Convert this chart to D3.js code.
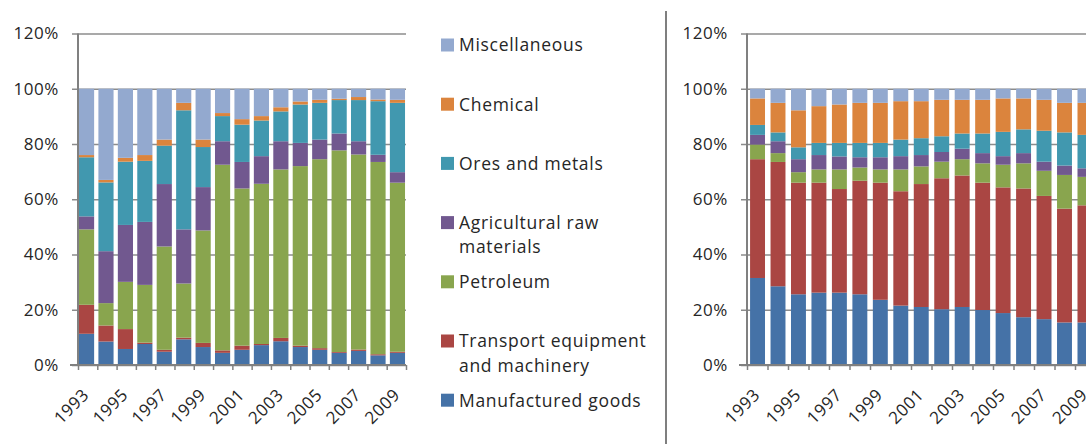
<!DOCTYPE html>
<html>
<head>
<meta charset="utf-8">
<script src="https://cdn.jsdelivr.net/npm/d3@7/dist/d3.min.js"></script>
<style>
  body { margin: 0; background: #fff; }
  text { font-family: "Open Sans", sans-serif; fill: #262626; }
</style>
</head>
<body>
<script>
var years = [1993, 1994, 1995, 1996, 1997, 1998, 1999, 2000, 2001, 2002, 2003, 2004, 2005, 2006, 2007, 2008, 2009];
var yTicks = [0, 0.2, 0.4, 0.6, 0.8, 1.0, 1.2];

// series order: bottom of the stack first
var seriesNames = ["Manufactured goods", "Transport equipment and machinery", "Petroleum",
                   "Agricultural raw materials", "Ores and metals", "Chemical", "Miscellaneous"];
var legendLines = [["Manufactured goods"], ["Transport equipment", "and machinery"], ["Petroleum"],
                   ["Agricultural raw", "materials"], ["Ores and metals"], ["Chemical"], ["Miscellaneous"]];
var seriesColors = ["#4572A7", "#AA4643", "#89A54E", "#71588F", "#4198AF", "#DB843D", "#93A9CF"];

// left panel, shares in %
var leftManufactured = [11.3, 8.5, 5.8, 7.6, 4.8, 9.3, 6.5, 4.4, 5.5, 7.2, 8.6, 6.5, 5.5, 4.4, 5.1, 3.5, 4.4];
var leftTransport    = [10.5, 5.8, 7.2, 0.5, 0.7, 0.6, 1.5, 0.9, 1.5, 0.4, 1.2, 0.5, 0.6, 0.3, 0.5, 0.4, 0.4];
var leftPetroleum    = [27.3, 8.1, 17.1, 20.9, 37.4, 19.6, 40.7, 67.2, 56.9, 58.0, 61.0, 65.0, 68.4, 73.0, 70.6, 69.6, 61.2];
var leftAgricultural = [4.7, 18.8, 20.6, 22.8, 22.6, 19.6, 15.7, 8.5, 9.6, 10.0, 10.2, 8.4, 7.1, 6.1, 4.8, 2.6, 3.8];
var leftOres         = [21.4, 24.9, 22.9, 22.1, 13.9, 43.1, 14.5, 9.1, 13.5, 12.9, 10.8, 13.9, 13.3, 12.1, 14.9, 19.4, 25.1];
var leftChemical     = [0.8, 0.9, 1.4, 2.1, 2.2, 2.7, 2.7, 1.1, 2.0, 1.6, 1.5, 1.1, 1.1, 0.5, 1.1, 0.6, 1.1];
var leftMisc         = [24.0, 33.0, 25.0, 24.0, 18.4, 5.1, 18.4, 8.8, 11.0, 9.9, 6.7, 4.6, 4.0, 3.6, 3.0, 3.9, 4.0];

// right panel, shares in %
var rightManufactured = [31.5, 28.5, 25.6, 26.2, 26.2, 25.6, 23.6, 21.5, 21.0, 20.2, 21.0, 19.9, 18.8, 17.3, 16.6, 15.4, 15.4];
var rightTransport    = [43.0, 45.0, 40.4, 39.8, 37.5, 41.1, 42.4, 41.4, 44.5, 47.4, 47.6, 46.1, 45.5, 46.6, 44.6, 41.2, 42.4];
var rightPetroleum    = [5.3, 3.2, 3.8, 4.8, 7.1, 4.8, 4.8, 7.9, 6.4, 6.0, 5.9, 7.0, 8.2, 9.1, 9.1, 12.2, 10.3];
var rightAgricultural = [3.5, 4.3, 4.7, 5.2, 4.7, 3.7, 4.4, 4.8, 4.1, 3.5, 3.8, 3.7, 3.1, 3.7, 3.3, 3.4, 3.1];
var rightOres         = [3.6, 3.2, 4.3, 4.4, 4.9, 5.2, 5.2, 6.0, 6.1, 5.7, 5.5, 7.1, 8.8, 8.6, 11.2, 12.0, 12.1];
var rightChemical     = [9.6, 10.7, 13.4, 13.3, 13.9, 14.5, 14.5, 13.9, 13.4, 13.2, 12.2, 12.2, 12.1, 11.2, 11.2, 10.7, 11.6];
var rightMisc         = [3.5, 5.1, 7.8, 6.3, 5.7, 5.1, 5.1, 4.5, 4.5, 4.0, 4.0, 4.0, 3.5, 3.5, 4.0, 5.1, 5.1];

var leftSeries = [leftManufactured, leftTransport, leftPetroleum, leftAgricultural, leftOres, leftChemical, leftMisc];
var rightSeries = [rightManufactured, rightTransport, rightPetroleum, rightAgricultural, rightOres, rightChemical, rightMisc];

var svg = d3.select("body").append("svg")
  .attr("width", 1086)
  .attr("height", 444);

var y = d3.scaleLinear().domain([0, 1.2]).range([365, 33.5]);

function table(series) {
  return years.map(function (yr, i) {
    var row = { year: yr };
    seriesNames.forEach(function (n, k) { row[n] = series[k][i]; });
    return row;
  });
}

function drawPanel(series, x0, x1, padInner, padOuter) {
  var g = svg.append("g");
  var w = x1 - x0;

  var x = d3.scaleBand().domain(years).range([x0, x1])
    .paddingInner(padInner).paddingOuter(padOuter);

  // gridlines + y labels
  var yAxis = g.append("g")
    .attr("transform", "translate(" + x0 + ",0)")
    .call(d3.axisLeft(y).tickValues(yTicks).tickFormat(d3.format(".0%"))
      .tickSizeInner(-w).tickSizeOuter(0).tickPadding(19));
  yAxis.select(".domain").remove();
  yAxis.selectAll(".tick line").attr("x1", -6).attr("stroke", "#8c8c8c").attr("stroke-width", 1.3);
  yAxis.selectAll(".tick text").style("font-size", "17px").attr("fill", "#262626")
    .style("letter-spacing", "0.6px")
    .style("font-family", "'Open Sans', sans-serif");

  var stack = d3.stack().keys(seriesNames).offset(d3.stackOffsetExpand);
  var layers = stack(table(series));

  g.selectAll("g.layer")
    .data(layers)
    .enter().append("g")
    .attr("class", "layer")
    .attr("fill", function (d, i) { return seriesColors[i]; })
    .selectAll("rect")
    .data(function (d) { return d; })
    .enter().append("rect")
    .attr("x", function (d) { return x(d.data.year); })
    .attr("width", x.bandwidth())
    .attr("y", function (d) { return y(d[1]); })
    .attr("height", function (d) { return y(d[0]) - y(d[1]); });

  // y axis line
  g.append("line")
    .attr("x1", x0).attr("x2", x0)
    .attr("y1", y(1.2)).attr("y2", y(0))
    .attr("stroke", "#808080").attr("stroke-width", 2);

  // x axis with tick marks between categories
  var xEdges = d3.scaleLinear().domain([0, years.length]).range([x0, x1]);
  var xAxis = g.append("g")
    .attr("transform", "translate(0," + y(0) + ")")
    .call(d3.axisBottom(xEdges).tickValues(d3.range(years.length + 1))
      .tickFormat("").tickSizeInner(5).tickSizeOuter(0));
  xAxis.select(".domain").attr("stroke", "#808080").attr("stroke-width", 2)
    .attr("d", "M" + (x0 - 8) + ",0H" + x1);
  xAxis.selectAll(".tick line").attr("stroke", "#808080").attr("stroke-width", 1.5);

  g.selectAll("text.year")
    .data(years.filter(function (d, i) { return i % 2 === 0; }))
    .enter().append("text")
    .attr("class", "year")
    .attr("text-anchor", "end")
    .attr("transform", function (d) {
      return "translate(" + (x(d) + x.bandwidth() / 2 + 3.5) + ",396) rotate(-45)";
    })
    .style("font-size", "17px")
    .style("letter-spacing", "0.5px")
    .text(function (d) { return d; });
}

drawPanel(leftSeries, 78, 406, 0.22, 0.05);
drawPanel(rightSeries, 747, 1095.5, 0.27, 0.15);

// legend, top entry is the last series
var legend = svg.append("g").attr("transform", "translate(441,0)");
var order = d3.range(seriesNames.length).reverse();
var item = legend.selectAll("g.item")
  .data(order)
  .enter().append("g")
  .attr("class", "item")
  .attr("transform", function (k, i) { return "translate(0," + (45 + i * 59.2) + ")"; });

item.append("rect")
  .attr("x", 0).attr("y", -6.5)
  .attr("width", 13).attr("height", 13)
  .attr("fill", function (k) { return seriesColors[k]; });

item.append("text")
  .attr("x", 18)
  .style("font-size", "17.5px")
  .style("letter-spacing", "0.7px")
  .selectAll("tspan")
  .data(function (k) { return legendLines[k]; })
  .enter().append("tspan")
  .attr("x", 18)
  .attr("dy", function (d, i) { return i === 0 ? "0.36em" : 24.5; })
  .text(function (d) { return d; });

// frame edge of the second chart
svg.append("line")
  .attr("x1", 666).attr("x2", 666)
  .attr("y1", 11).attr("y2", 444)
  .attr("stroke", "#555").attr("stroke-width", 1.5);
</script>
</body>
</html>
